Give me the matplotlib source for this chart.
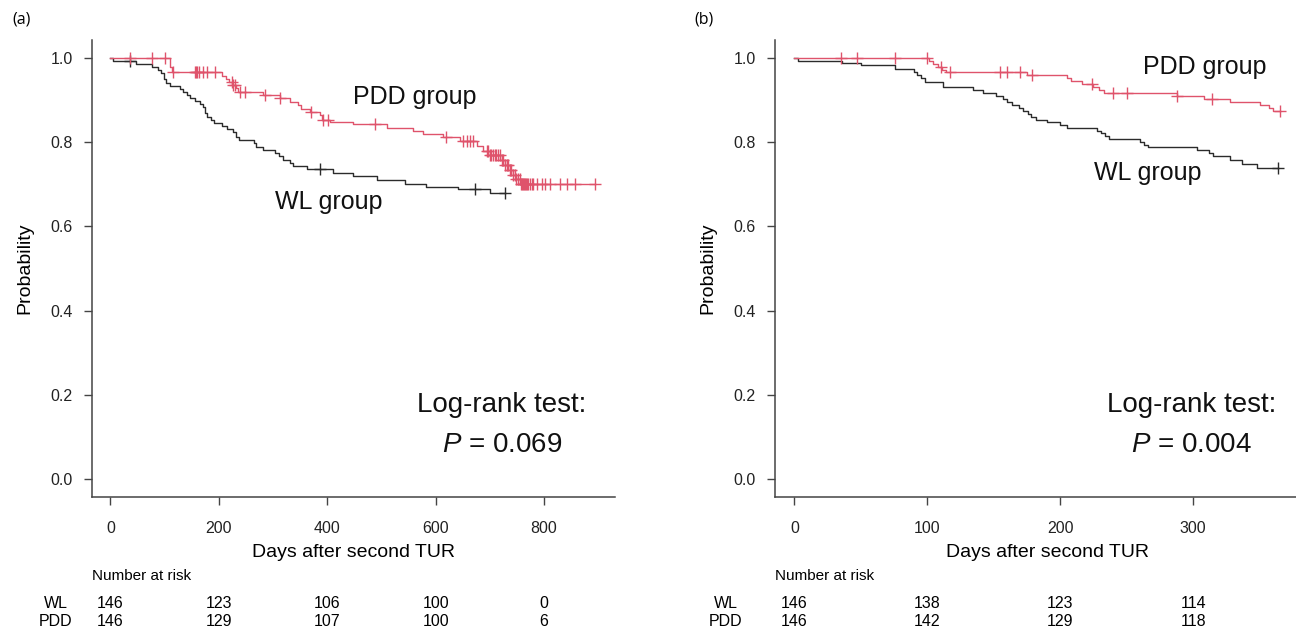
# Kaplan-Meier curves, WL group vs PDD group, two panels with number at risk tables
import numpy as np
import matplotlib
matplotlib.use("Agg")
import matplotlib.pyplot as plt
import matplotlib.transforms as mtransforms

plt.rcParams['font.family'] = ['Liberation Sans', 'DejaVu Sans']
plt.rcParams['mathtext.fontset'] = 'custom'
plt.rcParams['mathtext.it'] = 'Liberation Sans:italic'

# ---- panel (a): full follow-up ----
a_wl_times = [5, 48, 76, 88, 94, 99, 102, 110, 128, 134, 141, 147, 156, 165, 170, 174, 179, 185, 191,
              205, 216, 227, 232, 238, 264, 268, 282, 304, 311, 318, 331, 336, 362, 411, 448, 491, 543,
              583, 642, 700]
a_wl_surv = [0.994, 0.986, 0.979, 0.972, 0.965, 0.951, 0.940, 0.933, 0.926, 0.919, 0.912, 0.905, 0.898,
             0.890, 0.884, 0.870, 0.860, 0.853, 0.846, 0.839, 0.832, 0.825, 0.812, 0.805, 0.798, 0.788,
             0.781, 0.774, 0.767, 0.757, 0.750, 0.743, 0.737, 0.726, 0.720, 0.710, 0.700, 0.694, 0.688,
             0.680]
a_wl_cens = [36, 386, 672, 728]

a_pdd_times = [110, 113, 205, 213, 219, 225, 232, 236, 282, 313, 331, 347, 351, 368, 386, 391, 405, 448,
               510, 559, 577, 614, 645, 676, 688, 700, 719, 728, 737, 743, 749, 756]
a_pdd_surv = [0.979, 0.966, 0.958, 0.950, 0.943, 0.935, 0.928, 0.920, 0.912, 0.904, 0.896, 0.888, 0.880,
              0.873, 0.865, 0.853, 0.849, 0.843, 0.833, 0.826, 0.820, 0.812, 0.803, 0.792, 0.780, 0.770,
              0.758, 0.746, 0.733, 0.722, 0.712, 0.700]
a_pdd_cens = [36, 76, 100, 116, 156, 158, 160, 163, 171, 178, 193, 224, 227, 230, 239, 248, 285, 313,
              371, 393, 402, 488, 620, 651, 657, 663, 669, 694, 697, 700, 703, 706, 709, 712, 715, 718,
              722, 725, 728, 731, 734, 737, 740, 743, 746, 749, 752, 755, 757, 759, 761, 763, 765, 767,
              769, 771, 774, 777, 780, 787, 796, 802, 811, 829, 842, 857, 894]

a_xticks = [0, 200, 400, 600, 800]
a_risk_wl = [146, 123, 106, 100, 0]
a_risk_pdd = [146, 129, 107, 100, 6]
a_pvalue = "0.069"

# ---- panel (b): first year ----
b_wl_times = [3, 36, 50, 76, 90, 92, 95, 98, 112, 134, 142, 152, 157, 160, 164, 169, 172, 176, 178,
              182, 190, 200, 205, 228, 231, 234, 237, 260, 263, 266, 303, 312, 315, 328, 337, 348]
b_wl_surv = [0.994, 0.989, 0.983, 0.975, 0.968, 0.960, 0.952, 0.944, 0.932, 0.925, 0.918, 0.910, 0.903,
             0.896, 0.889, 0.882, 0.875, 0.868, 0.861, 0.854, 0.848, 0.841, 0.834, 0.827, 0.821, 0.814,
             0.807, 0.801, 0.794, 0.788, 0.781, 0.774, 0.767, 0.758, 0.748, 0.740]
b_wl_cens = [364]

b_pdd_times = [101, 104, 108, 111, 114, 175, 205, 208, 216, 225, 229, 233, 288, 308, 328, 350, 357, 360]
b_pdd_surv = [0.993, 0.986, 0.979, 0.972, 0.966, 0.959, 0.952, 0.945, 0.938, 0.931, 0.924, 0.917, 0.910,
              0.903, 0.896, 0.889, 0.882, 0.875]
b_pdd_cens = [35, 47, 76, 100, 110, 117, 155, 160, 170, 179, 224, 240, 250, 288, 314, 365]

b_xticks = [0, 100, 200, 300]
b_risk_wl = [146, 138, 123, 114]
b_risk_pdd = [146, 142, 129, 118]
b_pvalue = "0.004"

red = "#DF536B"
dark = "#2b2b2b"
W, H = 1296, 636


def km_plot(ax, times, surv, cens, color):
    # step curve from time 0 to the last observation
    end = max(max(times), max(cens))
    xs = [0] + list(times) + [end]
    ys = [1.0] + list(surv) + [surv[-1]]
    ax.step(xs, ys, where='post', color=color, lw=1.0)
    # censor marks sit on the curve
    t = np.array(times)
    s = np.array(surv)
    idx = np.searchsorted(t, np.array(cens), side='right') - 1
    cy = np.where(idx >= 0, s[np.clip(idx, 0, None)], 1.0)
    ax.plot(cens, cy, linestyle='none', marker='+', ms=9, mew=1.0, color=color)


def style_axes(ax, xlim, xticks):
    ax.set_xlim(*xlim)
    ax.set_ylim(-0.043, 1.043)
    ax.set_xticks(xticks)
    ax.set_yticks([0.0, 0.2, 0.4, 0.6, 0.8, 1.0])
    ax.set_yticklabels(["0.0", "0.2", "0.4", "0.6", "0.8", "1.0"])
    for side in ['top', 'right']:
        ax.spines[side].set_visible(False)
    for side in ['left', 'bottom']:
        ax.spines[side].set_color('#444444')
        ax.spines[side].set_linewidth(1.1)
    ax.tick_params(direction='out', length=6, width=1.0, color='#444444', labelcolor='#222222',
                   labelsize=11.5, pad=8)
    ax.tick_params(axis='x', pad=11)
    ax.set_ylabel("Probability", fontsize=14, labelpad=12)
    ax.set_xlabel("Days after second TUR", fontsize=14)


fig = plt.figure(figsize=(W / 100, H / 100), dpi=100)
fig.patch.set_facecolor('white')

ax_a = fig.add_axes([92 / W, 1 - 497 / H, 523 / W, 457 / H])
ax_b = fig.add_axes([775 / W, 1 - 497 / H, 524 / W, 457 / H])

km_plot(ax_a, a_wl_times, a_wl_surv, a_wl_cens, dark)
km_plot(ax_a, a_pdd_times, a_pdd_surv, a_pdd_cens, red)
km_plot(ax_b, b_wl_times, b_wl_surv, b_wl_cens, dark)
km_plot(ax_b, b_pdd_times, b_pdd_surv, b_pdd_cens, red)

style_axes(ax_a, (-34, 931), a_xticks)
style_axes(ax_b, (-14.6, 379.6), b_xticks)
ax_a.xaxis.set_label_coords(0.5, -0.102)
ax_b.xaxis.set_label_coords(0.52, -0.102)

# group labels and test result
ax_a.text(562, 0.908, "PDD group", fontsize=18, ha='center', va='center', color='#111111')
ax_a.text(403, 0.659, "WL group", fontsize=18, ha='center', va='center', color='#111111')
ax_a.text(722, 0.176, "Log-rank test:", fontsize=20, ha='center', va='center', color='#111111')
ax_a.text(722, 0.081, r"$\it{P}$ = " + a_pvalue, fontsize=20, ha='center', va='center', color='#111111')

ax_b.text(308.6, 0.979, "PDD group", fontsize=18, ha='center', va='center', color='#111111')
ax_b.text(265.8, 0.727, "WL group", fontsize=18, ha='center', va='center', color='#111111')
ax_b.text(299, 0.176, "Log-rank test:", fontsize=20, ha='center', va='center', color='#111111')
ax_b.text(299, 0.081, r"$\it{P}$ = " + b_pvalue, fontsize=20, ha='center', va='center', color='#111111')

# panel letters
fig.text(12 / W, 1 - 20 / H, "(a)", fontsize=11.5, family=['Open Sans', 'DejaVu Sans'], va='center')
fig.text(694 / W, 1 - 20 / H, "(b)", fontsize=11.5, family=['Open Sans', 'DejaVu Sans'], va='center')

# number at risk tables
table_font = ['Liberation Sans Narrow', 'Liberation Sans', 'DejaVu Sans']
for ax, xticks, risk_wl, risk_pdd, lab_x, head_x in [(ax_a, a_xticks, a_risk_wl, a_risk_pdd, 56, 92),
                                                     (ax_b, b_xticks, b_risk_wl, b_risk_pdd, 726, 775)]:
    fig.text(head_x / W, 1 - 576 / H, "Number at risk", fontsize=11, family=table_font, va='center')
    fig.text(lab_x / W, 1 - 604 / H, "WL", fontsize=11.5, family=table_font, va='center', ha='center')
    fig.text(lab_x / W, 1 - 622 / H, "PDD", fontsize=11.5, family=table_font, va='center', ha='center')
    trans = mtransforms.blended_transform_factory(ax.transData, fig.transFigure)
    for x, n1, n2 in zip(xticks, risk_wl, risk_pdd):
        fig.text(x, 1 - 604 / H, str(n1), transform=trans, fontsize=11.5, family=table_font,
                 ha='center', va='center')
        fig.text(x, 1 - 622 / H, str(n2), transform=trans, fontsize=11.5, family=table_font,
                 ha='center', va='center')

fig.savefig("out.png", dpi=100)
